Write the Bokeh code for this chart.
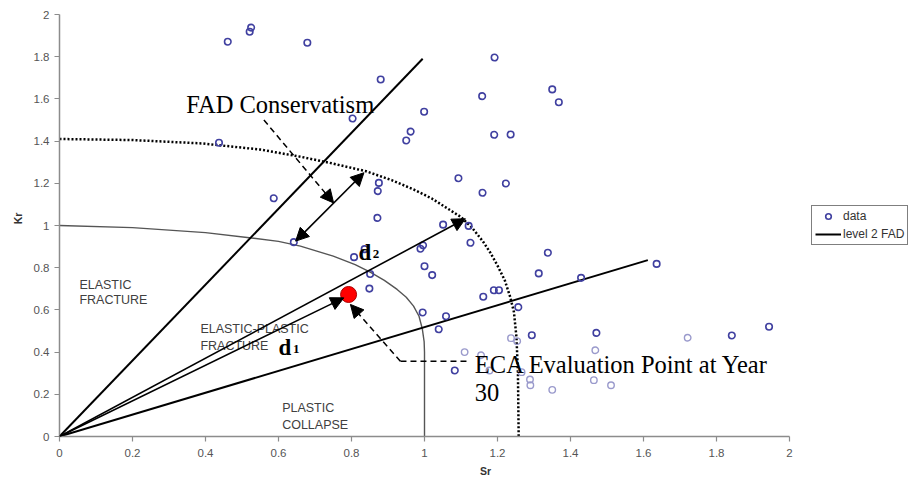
from bokeh.plotting import figure
from bokeh.models import Range1d, Arrow, NormalHead, Legend, LegendItem, FixedTicker
from bokeh.embed import file_html
from bokeh.resources import INLINE
from bokeh.core.properties import value

# ---------------- data ----------------
sr_data = [0.461, 0.521, 0.525, 0.679, 0.880, 0.803, 0.437, 0.587, 0.875, 0.872,
           0.871, 1.051, 0.950, 0.962, 0.999, 1.093, 1.192, 1.158, 1.350, 1.368,
           1.191, 1.236, 1.159, 1.223, 1.121, 1.126, 1.338, 0.996, 0.989, 0.807,
           1.000, 1.021, 0.851, 0.849, 1.313, 1.190, 1.204, 1.161, 1.257, 0.995,
           1.059, 1.039, 1.083, 0.836, 0.642, 1.636, 1.429, 1.944, 1.471, 1.294,
           1.842]
kr_data = [1.871, 1.918, 1.938, 1.866, 1.692, 1.507, 1.392, 1.129, 1.202, 1.163,
           1.036, 1.004, 1.403, 1.445, 1.539, 1.224, 1.796, 1.613, 1.645, 1.584,
           1.430, 1.431, 1.155, 1.199, 0.998, 0.918, 0.871, 0.906, 0.890, 0.850,
           0.807, 0.765, 0.770, 0.701, 0.773, 0.693, 0.693, 0.662, 0.613, 0.588,
           0.570, 0.508, 0.313, 0.888, 0.921, 0.818, 0.752, 0.520, 0.491, 0.480,
           0.479]
# points lying under the evaluation-point caption (drawn faded)
sr_faded = [1.237, 1.254, 1.721, 1.110, 1.468, 1.178, 1.266, 1.289, 1.290, 1.464,
            1.511, 1.350, 1.155]
kr_faded = [0.466, 0.452, 0.468, 0.400, 0.409, 0.313, 0.305, 0.270, 0.243, 0.267,
            0.243, 0.221, 0.385]

# level 2 FAD lines (from origin)
fad_steep_sr = [0.0, 0.995]
fad_steep_kr = [0.0, 1.790]
fad_shallow_sr = [0.0, 1.612]
fad_shallow_kr = [0.0, 0.836]

# solid failure assessment curve
curve_sr = [0.0, 0.2, 0.4, 0.52, 0.6, 0.66, 0.75, 0.81, 0.85, 0.89, 0.925, 0.95,
            0.97, 0.985, 0.994, 0.999, 1.0, 1.0]
curve_kr = [1.0, 0.99, 0.966, 0.942, 0.925, 0.902, 0.855, 0.815, 0.78, 0.74, 0.697, 0.66,
            0.618, 0.57, 0.51, 0.45, 0.40, 0.0]

# dotted (conservative) curve
dot_sr = [0.0, 0.2, 0.39, 0.55, 0.66, 0.74, 0.84, 0.91, 0.97, 1.02, 1.06, 1.10, 1.13,
          1.16, 1.18, 1.20, 1.22, 1.235, 1.245, 1.252, 1.256, 1.258]
dot_kr = [1.41, 1.405, 1.389, 1.36, 1.326, 1.297, 1.257, 1.215, 1.171, 1.128, 1.084, 1.04,
          0.99, 0.925, 0.872, 0.81, 0.74, 0.66, 0.59, 0.47, 0.30, 0.0]

# ECA evaluation point
eca_sr = [0.792]
eca_kr = [0.673]

# arrows: (x_start, y_start, x_end, y_end)
arrow_d1 = (0.0, 0.0, 0.779, 0.657)
arrow_d2 = (0.0, 0.0, 1.112, 1.032)
arrow_cons = (0.647, 0.926, 0.834, 1.250)
arrow_fad_note = (0.560, 1.500, 0.751, 1.107)
eca_path_sr = [1.115, 0.934]
eca_path_kr = [0.357, 0.357]
arrow_eca_note = (0.934, 0.357, 0.797, 0.626)

ticks = [0, 0.2, 0.4, 0.6, 0.8, 1, 1.2, 1.4, 1.6, 1.8, 2]
tick_labels = ["0", "0.2", "0.4", "0.6", "0.8", "1", "1.2", "1.4", "1.6", "1.8", "2"]

region_text = ["ELASTIC", "FRACTURE", "ELASTIC-PLASTIC", "FRACTURE", "PLASTIC", "COLLAPSE"]
region_sr = [0.0545, 0.0545, 0.386, 0.386, 0.610, 0.610]
region_kr = [0.718, 0.649, 0.509, 0.431, 0.133, 0.053]

# ---------------- figure ----------------
x0, px_per_x = 59, 365.0
y0, px_per_y = 436, 211.0
W, H = 911, 483

p = figure(width=W, height=H, output_backend="svg", toolbar_location=None,
           x_range=Range1d(0, (W - x0) / px_per_x), y_range=Range1d(0, y0 / px_per_y),
           min_border_left=x0, min_border_right=0, min_border_top=0,
           min_border_bottom=H - y0)
p.outline_line_color = None
p.grid.visible = False
p.background_fill_color = "white"

for ax in (p.xaxis[0], p.yaxis[0]):
    ax.bounds = (0, 2)
    ax.ticker = FixedTicker(ticks=ticks)
    ax.major_label_overrides = {t: l for t, l in zip(ticks, tick_labels)}
    ax.axis_line_color = "#8c8c8c"
    ax.axis_line_width = 1.5
    ax.major_tick_line_color = "#8c8c8c"
    ax.major_tick_line_width = 1.2
    ax.major_tick_out = 5
    ax.major_tick_in = 0
    ax.minor_tick_line_color = None
    ax.major_label_text_font = "Liberation Sans"
    ax.major_label_text_font_size = "11.5px"
    ax.major_label_text_color = "#555555"
    ax.axis_label_text_font = "Liberation Sans"
    ax.axis_label_text_font_size = "10.5px"
    ax.axis_label_text_font_style = "bold"
    ax.axis_label_text_color = "#333333"
p.xaxis.axis_label = "Sr"
p.yaxis.axis_label = "Kr"
p.xaxis.major_label_standoff = 7
p.xaxis.axis_label_standoff = 5
p.yaxis.major_label_standoff = 5
p.yaxis.axis_label_standoff = 7

# curves
p.line(curve_sr, curve_kr, line_color="#555555", line_width=1.4, line_join="round")
p.line(dot_sr, dot_kr, line_color="black", line_width=2.5, line_dash="2 2")

# FAD lines
steep = p.line(fad_steep_sr, fad_steep_kr, line_color="black", line_width=2)
p.line(fad_shallow_sr, fad_shallow_kr, line_color="black", line_width=2)

# data points
p.scatter(sr_faded, kr_faded, marker="circle", size=6.5, fill_color=None,
          line_color="#9a9acc", line_width=1.4)
pts = p.scatter(sr_data, kr_data, marker="circle", size=6.5, fill_color=None,
                line_color="#4040a0", line_width=1.6)

# arrows
def head():
    return NormalHead(size=13, fill_color="black", line_color="black", line_width=1)

for a, dash, w in [(arrow_d1, "solid", 1.6), (arrow_d2, "solid", 1.6),
                   (arrow_fad_note, "6 4", 1.5), (arrow_eca_note, "6 4", 1.5)]:
    p.add_layout(Arrow(end=head(), x_start=a[0], y_start=a[1], x_end=a[2], y_end=a[3],
                       line_color="black", line_width=w, line_dash=dash))
p.add_layout(Arrow(start=head(), end=head(), x_start=arrow_cons[0], y_start=arrow_cons[1],
                   x_end=arrow_cons[2], y_end=arrow_cons[3], line_color="black", line_width=1.6))
p.line(eca_path_sr, eca_path_kr, line_color="black", line_width=1.5, line_dash="6 4")

# evaluation point
p.scatter(eca_sr, eca_kr, marker="circle", size=16, fill_color="red",
          line_color="#aa0000", line_width=1)

# region labels
p.text(region_sr, region_kr, text=region_text, text_font=value("Liberation Sans"),
       text_font_size="12.5px", text_color="#404040", text_baseline="alphabetic")

# annotations
serif = value("Liberation Serif")
p.text([0.347], [1.573], text=["FAD Conservatism"], text_font=serif,
       text_font_size="24.5px", text_color="black", text_baseline="alphabetic")
p.text([1.138, 1.138], [0.341, 0.207], text=["ECA Evaluation Point at Year", "30"],
       text_font=serif, text_font_size="24.5px", text_color="black",
       text_baseline="alphabetic")
p.text([0.819, 0.600], [0.871, 0.420], text=["d", "d"], text_font=serif,
       text_font_size="23px", text_font_style="bold", text_color="black",
       text_baseline="alphabetic")
p.text([0.858, 0.640], [0.866, 0.415], text=["2", "1"], text_font=serif,
       text_font_size="13px", text_font_style="bold", text_color="black",
       text_baseline="alphabetic")

# legend
legend = Legend(items=[LegendItem(label="data", renderers=[pts]),
                       LegendItem(label="level 2 FAD", renderers=[steep])],
                location=(752, y0 - 245), orientation="vertical",
                border_line_color="black", border_line_width=1,
                background_fill_color="white", background_fill_alpha=1,
                padding=3, spacing=4, margin=0, glyph_width=26, glyph_height=14,
                label_height=14, label_standoff=2,
                label_text_font="Liberation Sans", label_text_font_size="12px",
                label_text_color="#333333")
p.add_layout(legend)

open("out.html", "w").write(file_html(p, INLINE))
